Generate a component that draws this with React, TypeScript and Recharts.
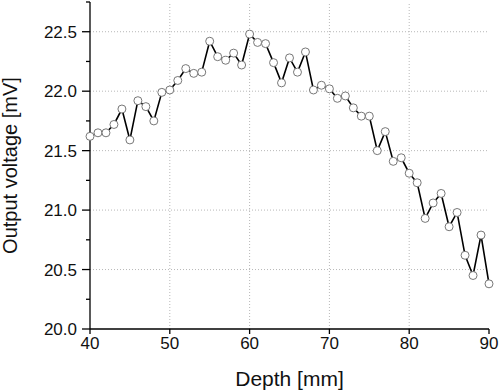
import { LineChart, Line, XAxis, YAxis, ReferenceLine } from 'recharts';

// Depth in mm, one reading per millimetre
const depth = [
  40, 41, 42, 43, 44, 45, 46, 47, 48, 49, 50, 51, 52, 53, 54, 55, 56, 57, 58, 59, 60, 61, 62, 63, 64, 65,
  66, 67, 68, 69, 70, 71, 72, 73, 74, 75, 76, 77, 78, 79, 80, 81, 82, 83, 84, 85, 86, 87, 88, 89, 90,
];
// Output voltage in mV
const voltage = [
  21.62, 21.65, 21.65, 21.72, 21.85, 21.59, 21.92, 21.87, 21.75, 21.99, 22.01, 22.09, 22.19, 22.15, 22.16,
  22.42, 22.29, 22.26, 22.32, 22.22, 22.48, 22.41, 22.40, 22.24, 22.07, 22.28, 22.16, 22.33, 22.01, 22.05,
  22.02, 21.94, 21.96, 21.86, 21.79, 21.79, 21.50, 21.66, 21.41, 21.44, 21.31, 21.23, 20.93, 21.06, 21.14,
  20.86, 20.98, 20.62, 20.45, 20.79, 20.38,
];

const xTicks = [40, 50, 60, 70, 80, 90];
const yMajor = [20.0, 20.5, 21.0, 21.5, 22.0, 22.5];
const yMinor = [20.25, 20.75, 21.25, 21.75, 22.25, 22.75];
const xGrid = [50, 60, 70, 80];
const yGrid = [20.5, 21.0, 21.5, 22.0, 22.5];

const data = depth.map((d, i) => ({ depth: d, v: voltage[i] }));
const yTicks = [...yMajor, ...yMinor].sort((a, b) => a - b);

const font = 'Arial, "Liberation Sans", sans-serif';

function YTick(props: any) {
  const { x, y, payload } = props;
  const major = yMajor.includes(payload.value);
  // x is tick label anchor = axis - tickSize(8) - tickMargin(5)
  const axisX = x + 13;
  return (
    <g>
      <line x1={axisX - (major ? 8 : 4)} x2={axisX} y1={y} y2={y} stroke="#000" strokeWidth={1.3} />
      {major && (
        <text x={x} y={y} dy={6} textAnchor="end" fontSize={17} fontFamily={font} fill="#111">
          {payload.value.toFixed(1)}
        </text>
      )}
    </g>
  );
}

export default function App() {
  return (
    <div style={{ position: 'absolute', left: 0, top: 0, background: '#fff' }}>
      <LineChart width={500} height={392} data={data} margin={{ top: 2, right: 11, bottom: 0, left: 0 }}>
        {yGrid.map((v) => (
          <ReferenceLine key={'h' + v} y={v} stroke="#b8b8b8" strokeDasharray="1 2" />
        ))}
        {xGrid.map((v) => (
          <ReferenceLine key={'v' + v} x={v} stroke="#b8b8b8" strokeDasharray="1 2" />
        ))}
        <XAxis
          dataKey="depth"
          type="number"
          domain={[40, 90]}
          ticks={xTicks}
          height={63}
          tickSize={5}
          tickMargin={3}
          stroke="#000"
          strokeWidth={1.3}
          tick={{ fontSize: 17, fontFamily: font, fill: '#111' }}
          label={{ value: 'Depth [mm]', position: 'insideBottom', offset: 6, fontSize: 21, fontFamily: font, fill: '#111' }}
        />
        <YAxis
          type="number"
          domain={[20, 22.75]}
          ticks={yTicks}
          interval={0}
          width={90}
          tickSize={8}
          tickMargin={5}
          tickLine={false}
          stroke="#000"
          strokeWidth={1.3}
          tick={<YTick />}
          label={{
            value: 'Output voltage [mV]',
            angle: -90,
            position: 'insideLeft',
            offset: 10,
            fontSize: 20,
            fontFamily: font,
            fill: '#111',
            style: { textAnchor: 'middle' },
          }}
        />
        <Line
          type="linear"
          dataKey="v"
          stroke="#000"
          strokeWidth={1.6}
          dot={{ r: 4, fill: '#fff', stroke: '#777', strokeWidth: 1 }}
          activeDot={false}
          isAnimationActive={false}
        />
      </LineChart>
    </div>
  );
}
